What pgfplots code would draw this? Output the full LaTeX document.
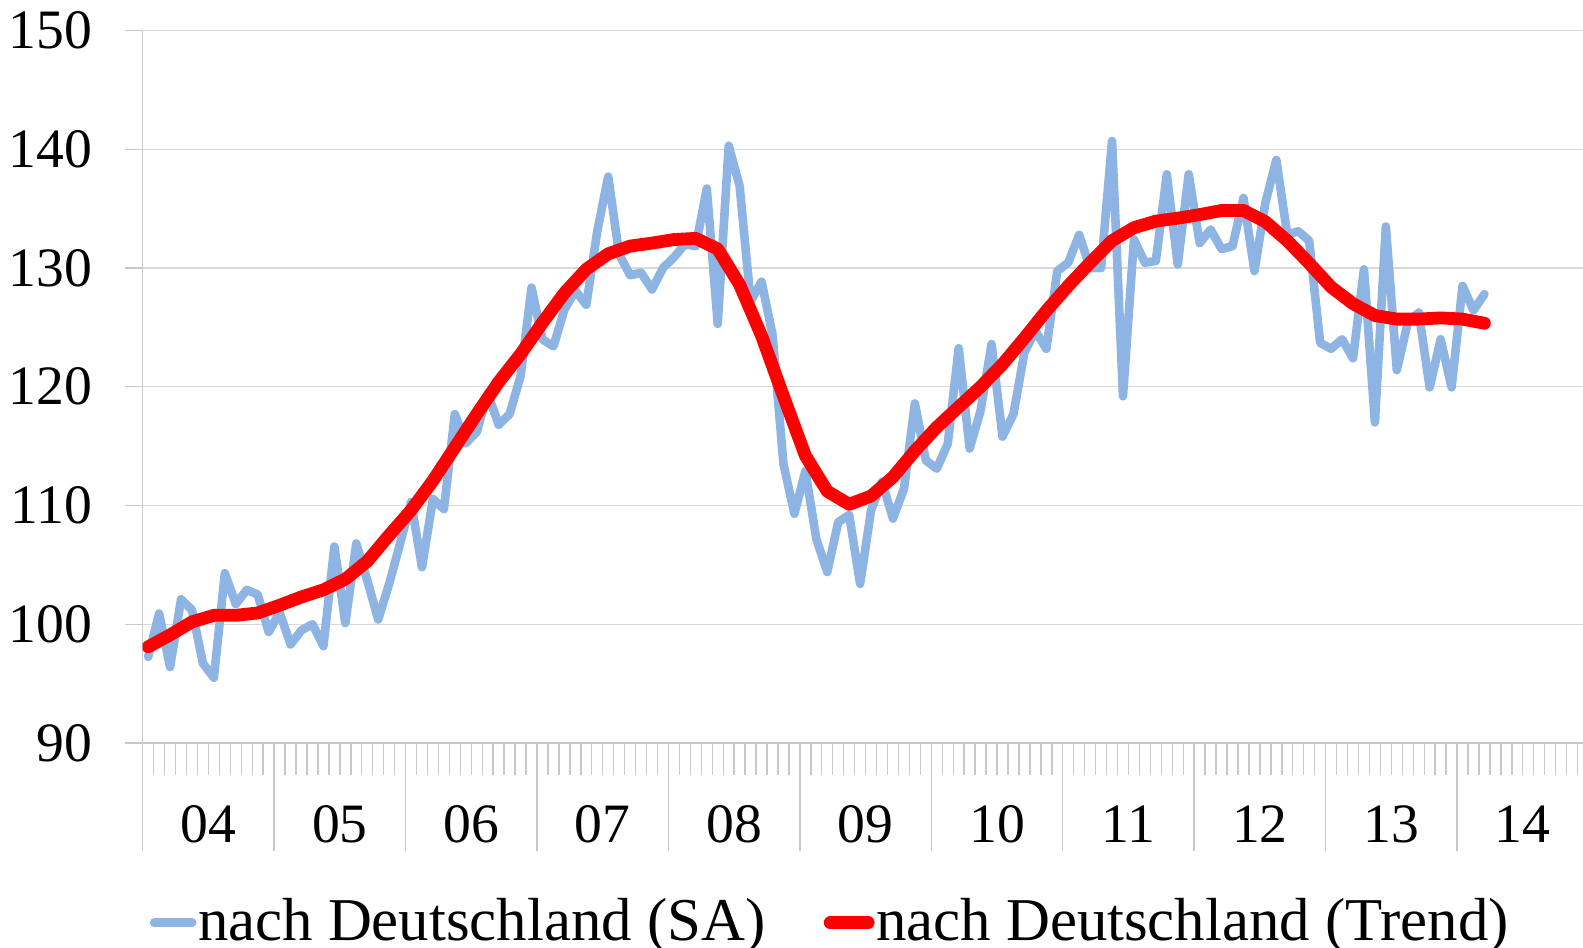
\documentclass[border=0pt]{standalone}
\usepackage{fontspec}
\setmainfont{Liberation Serif}
\usepackage{pgfplots}
\pgfplotsset{compat=1.18}
\definecolor{sablue}{RGB}{142,180,227}
\definecolor{gridgray}{RGB}{217,217,217}
\definecolor{axgray}{RGB}{200,200,200}
\begin{document}
\begin{tikzpicture}
\begin{axis}[
  at={(0pt,0pt)}, anchor=south west,
  scale only axis, width=360.075pt, height=178.1pt,
  xmin=0, xmax=131.5, ymin=90, ymax=150,
  axis x line=bottom, axis y line=left,
  axis line style={-, draw=axgray, line width=0.35pt},
  no markers,
  /pgf/number format/assume math mode=true,
  ytick={90,100,...,150},
  ymajorgrids, grid style={gridgray, line width=0.35pt},
  tick align=outside,
  major tick length=4.4pt, minor tick length=8pt,
  tick style={axgray, line width=0.35pt},
  xtick={6,18,...,126},
  xticklabels={04,05,06,07,08,09,10,11,12,13,14},
  major x tick style={draw=none},
  minor xtick={0,1,...,131},
  extra x ticks={0,12,...,120},
  extra x tick labels={},
  extra x tick style={major tick length=27pt, major x tick style={draw=axgray, line width=0.35pt}},
  tick label style={font=\fontsize{13.9}{16}\selectfont, text=black},
  yticklabel style={anchor=east, inner sep=0pt, xshift=-8pt},
  xticklabel style={anchor=north, inner sep=0pt, yshift=-11pt},
  legend columns=2,
  legend image code/.code={\draw[#1] (0pt,0pt) -- (9.5pt,0pt);},
  legend style={draw=none, fill=none, inner sep=0pt, outer sep=0pt,
    at={(axis description cs:0.005,-0.2524)}, anchor=west,
    font=\fontsize{15.2}{18}\selectfont, nodes={inner sep=0pt},
    /tikz/every odd column/.style={column sep=0.4pt},
    /tikz/every even column/.style={column sep=14.6pt}},
]
\addplot[sablue, line width=2.15pt, line join=round, line cap=round] coordinates {
(0.5,97.25) (1.5,100.9) (2.5,96.4) (3.5,102.1) (4.5,101.2) (5.5,96.7) (6.5,95.5) (7.5,104.3) (8.5,101.7) (9.5,102.9) (10.5,102.5) (11.5,99.35)
(12.5,101.0) (13.5,98.3) (14.5,99.5) (15.5,100.0) (16.5,98.15) (17.5,106.55) (18.5,100.1) (19.5,106.8) (20.5,103.7) (21.5,100.4) (22.5,103.4) (23.5,106.8)
(24.5,110.3) (25.5,104.8) (26.5,110.55) (27.5,109.7) (28.5,117.7) (29.5,115.25) (30.5,116.2) (31.5,119.45) (32.5,116.8) (33.5,117.7) (34.5,120.9) (35.5,128.35)
(36.5,124.0) (37.5,123.4) (38.5,126.5) (39.5,128.1) (40.5,126.9) (41.5,133.1) (42.5,137.7) (43.5,131.15) (44.5,129.4) (45.5,129.6) (46.5,128.2) (47.5,130.0)
(48.5,130.9) (49.5,132.0) (50.5,131.85) (51.5,136.7) (52.5,125.3) (53.5,140.3) (54.5,136.9) (55.5,127.2) (56.5,128.85) (57.5,124.4) (58.5,113.5) (59.5,109.3)
(60.5,112.9) (61.5,107.2) (62.5,104.4) (63.5,108.6) (64.5,109.2) (65.5,103.4) (66.5,109.6) (67.5,112.0) (68.5,108.9) (69.5,111.4) (70.5,118.6) (71.5,113.8)
(72.5,113.1) (73.5,115.2) (74.5,123.25) (75.5,114.8) (76.5,118.0) (77.5,123.6) (78.5,115.8) (79.5,117.7) (80.5,122.9) (81.5,124.7) (82.5,123.2) (83.5,129.75)
(84.5,130.45) (85.5,132.8) (86.5,130.0) (87.5,130.0) (88.5,140.7) (89.5,119.2) (90.5,132.4) (91.5,130.45) (92.5,130.6) (93.5,137.9) (94.5,130.3) (95.5,137.9)
(96.5,132.1) (97.5,133.25) (98.5,131.6) (99.5,131.85) (100.5,135.9) (101.5,129.75) (102.5,135.5) (103.5,139.1) (104.5,132.8) (105.5,133.1) (106.5,132.3) (107.5,123.7)
(108.5,123.2) (109.5,124.0) (110.5,122.4) (111.5,129.9) (112.5,117.0) (113.5,133.5) (114.5,121.4) (115.5,125.4) (116.5,126.25) (117.5,119.95) (118.5,124.0) (119.5,119.95)
(120.5,128.5) (121.5,126.45) (122.5,127.8)
};
\addlegendentry{nach Deutschland (SA)}
\addplot[red, line width=3.2pt, line join=round, line cap=round] coordinates {
(0.5,98.1) (2.5,99.1) (4.5,100.2) (6.5,100.75) (8.5,100.75) (10.5,100.95) (12.5,101.6) (14.5,102.3) (16.5,102.9) (18.5,103.8) (20.5,105.3) (22.5,107.5)
(24.5,109.6) (26.5,112.1) (28.5,114.9) (30.5,117.7) (32.5,120.4) (34.5,122.75) (36.5,125.4) (38.5,127.9) (40.5,129.9) (42.5,131.2) (44.5,131.85) (46.5,132.1)
(48.5,132.4) (50.5,132.5) (52.5,131.6) (54.5,128.6) (56.5,124.3) (58.5,119.2) (60.5,114.2) (62.5,111.2) (64.5,110.1) (66.5,110.8) (68.5,112.4) (70.5,114.6)
(72.5,116.6) (74.5,118.3) (76.5,120.0) (78.5,121.9) (80.5,124.1) (82.5,126.4) (84.5,128.5) (86.5,130.45) (88.5,132.3) (90.5,133.4) (92.5,133.95) (94.5,134.2)
(96.5,134.5) (98.5,134.85) (100.5,134.85) (102.5,133.9) (104.5,132.3) (106.5,130.4) (108.5,128.4) (110.5,127.0) (112.5,126.0) (114.5,125.7) (116.5,125.7) (118.5,125.8)
(120.5,125.7) (122.5,125.35)
};
\addlegendentry{nach Deutschland (Trend)}
\end{axis}
\pgfresetboundingbox
\path[use as bounding box] (-35.675pt,-51.25pt) rectangle (360.075pt,185.75pt);
\end{tikzpicture}
\end{document}
